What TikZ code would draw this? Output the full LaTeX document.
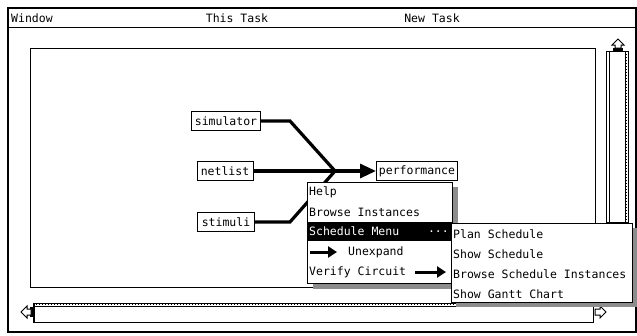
\documentclass[tikz,border=0pt]{standalone}
\usepackage{fontspec}
\newfontfamily\ui{DejaVu Sans Mono}
\usetikzlibrary{arrows.meta}
\tikzset{
  uitext/.style={font=\ui\fontsize{11.5}{13}\selectfont, inner sep=0pt},
  boxnode/.style={uitext, draw, fill=white, line width=1pt, inner xsep=2pt, minimum height=19pt},
  conn/.style={line width=3.2pt},
  bigarrow/.style={line width=3.2pt, -{Triangle[length=16pt,width=14pt]}},
  smallarrow/.style={line width=3pt, -{Triangle[length=9pt,width=11pt]}},
  shadow/.style={fill=black!45},
  menubox/.style={draw, fill=white, line width=1pt, inner sep=0pt},
  thin/.style={line width=1pt},
  ladder/.style={line width=1.6pt, dash pattern=on 1pt off 2pt},
}
\begin{document}
\begin{tikzpicture}[x=1pt,y=-1pt]
\useasboundingbox (0,0) rectangle (637,335);
\fill[white] (0,0) rectangle (637,335);
% window frame
\draw[line width=2.2pt] (8,8) rectangle (636,332);
\draw[thin] (8,27) -- (636,27);
\node[uitext, anchor=west] (twin) at (11,18) {Window};
\node[uitext] (tthis) at (237,18) {This Task};
\node[uitext] (tnew) at (432,18) {New Task};
% canvas
\draw[thin] (30,48) rectangle (595,287);
% vertical scrollbar
\draw[thin] (606,51) rectangle (628,222);
\draw[thin] (609,51) -- (609,222);
\draw[thin] (625,51) -- (625,222);
\draw[ladder] (626.5,51) -- (626.5,222);
\fill (613,48) rectangle (623,52);
\draw[thin, fill=white] (618,39) -- (624,45) -- (621,45) -- (621,48) -- (615,48) -- (615,45) -- (612,45) -- cycle;
% horizontal scrollbar
\draw[thin] (33,303) rectangle (593,322);
\draw[thin] (33,306) -- (593,306);
\draw[ladder] (33,304.5) -- (593,304.5);
\draw[line width=2pt] (34,303) -- (34,322);
\fill (30,307) rectangle (34,317);
\draw[thin, fill=white] (21,312) -- (27,306) -- (27,309) -- (31,309) -- (31,315) -- (27,315) -- (27,318) -- cycle;
\draw[thin, fill=white] (606,312) -- (600,306) -- (600,309) -- (595,309) -- (595,315) -- (600,315) -- (600,318) -- cycle;
% graph nodes
\node[boxnode, minimum width=69pt] (sim) at (226,121) {simulator};
\node[boxnode, minimum width=56pt] (net) at (225,171) {netlist};
\node[boxnode, minimum width=57pt] (stim) at (226,222) {stimuli};
\node[boxnode, minimum width=81pt] (perf) at (417,171) {performance};
\coordinate (j) at (335,171);
\coordinate (sbend) at (290,121);
\coordinate (tbend) at (290,222);
\draw[conn] (sim.east) -- (sbend) -- (j);
\draw[conn] (stim.east) -- (tbend) -- (j);
\draw[bigarrow] (net.east) -- (perf.west);
% main menu
\fill[shadow] (313,187) rectangle (458,289);
\node[menubox, anchor=north west, minimum width=145pt, minimum height=101pt] (menu) at (307,182) {};
\fill[black] (307.5,222) rectangle (451.5,241);
\node[uitext, anchor=west] (mhelp) at (309,192) {Help};
\node[uitext, anchor=west] (mbrowse) at (309,212) {Browse Instances};
\node[uitext, anchor=west, text=white] (msched) at (309,231.5) {Schedule Menu};
\node[uitext, anchor=east, text=white] (mdots) at (449,231.5) {.\kern0pt.\kern0pt.};
\coordinate (ua) at (310,252);
\coordinate (ub) at (337,252);
\draw[smallarrow] (ua) -- (ub);
\node[uitext, anchor=west] (munexp) at (348,252) {Unexpand};
\node[uitext, anchor=west] (mverify) at (309,272) {Verify Circuit};
\coordinate (va) at (415,272);
\coordinate (vb) at (446,272);
\draw[smallarrow] (va) -- (vb);
% submenu
\fill[shadow] (456,228) rectangle (637,307);
\node[menubox, anchor=north west, minimum width=181pt, minimum height=79pt] (sub) at (451,223) {};
\node[uitext, anchor=west] (splan) at (453,234) {Plan Schedule};
\node[uitext, anchor=west] (sshow) at (453,254) {Show Schedule};
\node[uitext, anchor=west] (sbrowse) at (453,274) {Browse Schedule Instances};
\node[uitext, anchor=west] (sgantt) at (453,294) {Show Gantt Chart};
\end{tikzpicture}
\end{document}
